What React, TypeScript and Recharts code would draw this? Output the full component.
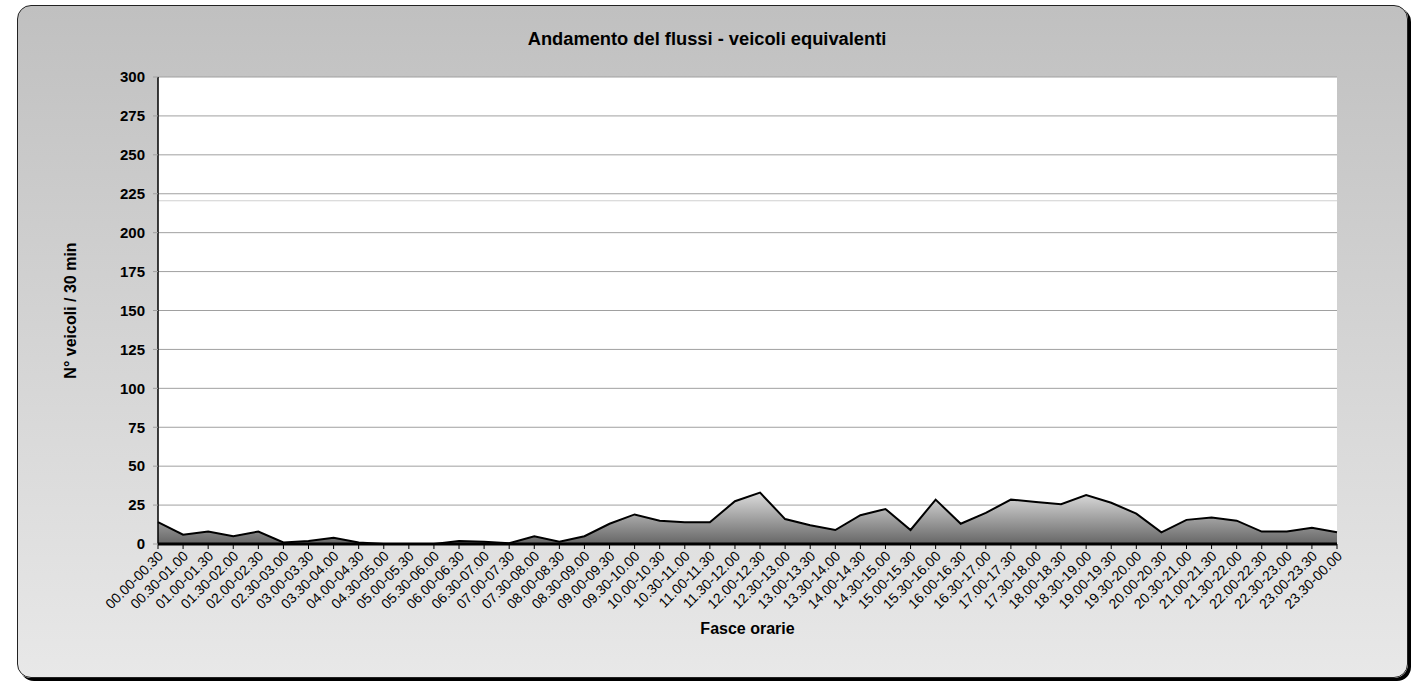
import { AreaChart, Area, XAxis, YAxis, CartesianGrid, ReferenceLine } from 'recharts';

const slots = [
  '00.00-00.30', '00.30-01.00', '01.00-01.30', '01.30-02.00', '02.00-02.30', '02.30-03.00',
  '03.00-03.30', '03.30-04.00', '04.00-04.30', '04.30-05.00', '05.00-05.30', '05.30-06.00',
  '06.00-06.30', '06.30-07.00', '07.00-07.30', '07.30-08.00', '08.00-08.30', '08.30-09.00',
  '09.00-09.30', '09.30-10.00', '10.00-10.30', '10.30-11.00', '11.00-11.30', '11.30-12.00',
  '12.00-12.30', '12.30-13.00', '13.00-13.30', '13.30-14.00', '14.00-14.30', '14.30-15.00',
  '15.00-15.30', '15.30-16.00', '16.00-16.30', '16.30-17.00', '17.00-17.30', '17.30-18.00',
  '18.00-18.30', '18.30-19.00', '19.00-19.30', '19.30-20.00', '20.00-20.30', '20.30-21.00',
  '21.00-21.30', '21.30-22.00', '22.00-22.30', '22.30-23.00', '23.00-23.30', '23.30-00.00',
];

const veicoli = [
  14, 6, 8, 5, 8, 1,
  2, 4, 1, 0, 0, 0,
  2, 1.5, 0.5, 5, 1.5, 5,
  13, 19, 15, 14, 14, 27.5,
  33, 16, 12, 9, 18.5, 22.5,
  9, 28.5, 13, 20, 28.5, 27,
  25.5, 31.5, 26.5, 19.5, 7.5, 15.5,
  17, 15, 8, 8, 10.5, 7.5,
];

const yTicks = [0, 25, 50, 75, 100, 125, 150, 175, 200, 225, 250, 275, 300];

const data = slots.map((slot, i) => ({ slot, valore: veicoli[i] }));

const font = 'Arial, "Liberation Sans", sans-serif';

const SlotTick = ({ x, y, payload }: any) => (
  <g transform={`translate(${x + 6},${y + 6})`}>
    <text x={0} y={0} textAnchor="end" transform="rotate(-45)"
      fontSize={14} fontFamily={font} fill="#000">
      {payload.value}
    </text>
  </g>
);

export default function App() {
  return (
    <div style={{ position: 'absolute', left: 0, top: 0, width: 1418, height: 684 }}>
      <div style={{
        position: 'absolute', left: 17, top: 5, width: 1389, height: 671,
        border: '1.5px solid #222', borderRadius: 14,
        boxShadow: '3px 3px 0 #000',
        background: 'linear-gradient(#c0c0c0, #e8e8e8)',
      }} />
      <div style={{
        position: 'absolute', left: 17, width: 1380, top: 28, textAlign: 'center',
        fontFamily: font, fontWeight: 700, fontSize: 18.3, color: '#000',
      }}>
        Andamento del flussi - veicoli equivalenti
      </div>
      <div style={{ position: 'absolute', left: 0, top: 0 }}>
        <AreaChart width={1418} height={684} data={data}
          margin={{ top: 77, right: 81, bottom: 0, left: 0 }}>
          <defs>
            <linearGradient id="areaGrad" x1="0" y1="0" x2="0" y2="1">
              <stop offset="0%" stopColor="#dcdcdc" />
              <stop offset="100%" stopColor="#666666" />
            </linearGradient>
          </defs>
          <CartesianGrid vertical={false} stroke="#a0a0a0" fill="#ffffff" />
          <ReferenceLine y={220.5} stroke="#d0d0d0" ifOverflow="visible" />
          <XAxis dataKey="slot" interval={0} height={140}
            tick={<SlotTick />} tickSize={5} tickMargin={2}
            tickLine={{ stroke: '#000' }} axisLine={{ stroke: '#000', strokeWidth: 3 }}
            label={{ value: 'Fasce orarie', position: 'insideTop', offset: 79,
              style: { fontFamily: font, fontWeight: 700, fontSize: 16, fill: '#000' } }} />
          <YAxis domain={[0, 300]} ticks={yTicks} width={158} interval={0}
            tickSize={5} tickMargin={8}
            tick={{ fontFamily: font, fontWeight: 700, fontSize: 15, fill: '#000' }}
            tickLine={{ stroke: '#a0a0a0' }} axisLine={{ stroke: '#000', strokeWidth: 1.5 }}
            label={{ value: 'N° veicoli / 30 min', angle: -90, position: 'center', dx: -9,
              style: { fontFamily: font, fontWeight: 700, fontSize: 16, fill: '#000' } }} />
          <YAxis yAxisId="bordo" orientation="right" width={0} tick={false}
            tickLine={false} axisLine={{ stroke: '#a0a0a0' }} />
          <Area type="linear" dataKey="valore" stroke="#000" strokeWidth={2}
            fill="url(#areaGrad)" fillOpacity={1} isAnimationActive={false} />
        </AreaChart>
      </div>
    </div>
  );
}
